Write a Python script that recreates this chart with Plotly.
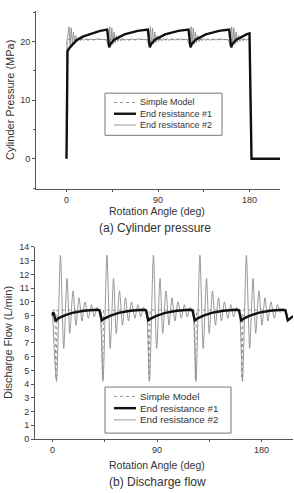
import plotly.graph_objects as go

# ---------------- (a) Cylinder pressure ----------------
sim_p_x = [0, 0.5, 180, 181.5]
sim_p_y = [0, 20.3, 20.3, 0]

er1_p_x = [0, 0.5, 1, 3, 5, 10, 16, 25, 33, 40,
           42, 43, 47, 57, 70, 80,
           82, 83, 87, 97, 110, 120,
           122, 123, 127, 137, 150, 160,
           162, 163, 167, 177, 180, 182, 210]
er1_p_y = [0, 18.0, 18.3, 18.9, 19.3, 20.2, 20.8, 21.4, 21.8, 22.0,
           19.0, 19.5, 20.3, 21.2, 21.8, 22.0,
           19.0, 19.5, 20.3, 21.2, 21.8, 22.0,
           19.0, 19.5, 20.3, 21.2, 21.8, 22.0,
           19.0, 19.5, 20.3, 21.2, 21.35, 0, 0]

er2_p_x = [0, 0.5, 2.5, 3.5, 4.6, 5.7, 6.8, 7.9, 9.0, 10.5, 12, 13.5, 15, 17, 19, 21, 24, 27, 30, 39,
           41, 42.5, 43.5, 44.6, 45.7, 46.8, 47.9, 49.0, 50.5, 52, 53.5, 55, 57, 59, 61, 64, 67, 70, 79,
           81, 82.5, 83.5, 84.6, 85.7, 86.8, 87.9, 89.0, 90.5, 92, 93.5, 95, 97, 99, 101, 104, 107, 110, 119,
           121, 122.5, 123.5, 124.6, 125.7, 126.8, 127.9, 129.0, 130.5, 132, 133.5, 135, 137, 139, 141, 144, 147, 150, 159,
           161, 162.5, 163.5, 164.6, 165.7, 166.8, 167.9, 169.0, 170.5, 172, 173.5, 175, 177, 179, 180, 181.5]
er2_p_y = [0, 20.0, 22.5, 19.3, 22.3, 19.5, 21.6, 19.8, 21.0, 20.0, 20.7, 20.1, 20.5, 20.2, 20.45, 20.2, 20.4, 20.25, 20.4, 20.3,
           19.3, 22.5, 19.3, 22.3, 19.5, 21.6, 19.8, 21.0, 20.0, 20.7, 20.1, 20.5, 20.2, 20.45, 20.2, 20.4, 20.25, 20.4, 20.3,
           19.3, 22.5, 19.3, 22.3, 19.5, 21.6, 19.8, 21.0, 20.0, 20.7, 20.1, 20.5, 20.2, 20.45, 20.2, 20.4, 20.25, 20.4, 20.3,
           19.3, 22.5, 19.3, 22.3, 19.5, 21.6, 19.8, 21.0, 20.0, 20.7, 20.1, 20.5, 20.2, 20.45, 20.2, 20.4, 20.25, 20.4, 20.3,
           19.3, 22.5, 19.3, 22.3, 19.5, 21.6, 19.8, 21.0, 20.0, 20.7, 20.1, 20.5, 20.2, 20.45, 20.3, 0]

# ---------------- (b) Discharge flow ----------------
sim_q_x = [0, 2, 3, 4, 42, 43, 44, 82, 83, 84, 122, 123, 124, 162, 163, 164, 200]
sim_q_y = [9.4, 9.4, 4.4, 9.4, 9.4, 4.4, 9.4, 9.4, 4.4, 9.4, 9.4, 4.4, 9.4, 9.4, 4.4, 9.4, 9.4]

er1_q_x = [0, 0.6, 1.4, 2.6, 5, 10, 17, 27, 38, 40.5,
           42.5, 45, 50, 57, 67, 78, 80.5,
           82.5, 85, 90, 97, 107, 118, 120.5,
           122.5, 125, 130, 137, 147, 158, 160.5,
           162.5, 165, 170, 177, 187, 198, 200.5,
           202.5, 207]
er1_q_y = [9.0, 9.25, 9.1, 8.6, 8.8, 9.0, 9.2, 9.35, 9.42, 9.38,
           8.65, 8.8, 9.0, 9.2, 9.35, 9.42, 9.38,
           8.65, 8.8, 9.0, 9.2, 9.35, 9.42, 9.38,
           8.65, 8.8, 9.0, 9.2, 9.35, 9.42, 9.38,
           8.65, 8.8, 9.0, 9.2, 9.35, 9.42, 9.38,
           8.65, 8.95]

er2_q_x = [0, 3.5, 6.9, 9.7, 12.6, 14.9, 17.7, 20.3, 22.9, 25.4, 28.0, 30.9, 33.5, 36.0, 38.4,
           40.8, 43.5, 46.9, 49.7, 52.6, 54.9, 57.7, 60.3, 62.9, 65.4, 68.0, 70.9, 73.5, 76.0, 78.4,
           80.8, 83.5, 86.9, 89.7, 92.6, 94.9, 97.7, 100.3, 102.9, 105.4, 108.0, 110.9, 113.5, 116.0, 118.4,
           120.8, 123.5, 126.9, 129.7, 132.6, 134.9, 137.7, 140.3, 142.9, 145.4, 148.0, 150.9, 153.5, 156.0, 158.4,
           160.8, 163.5, 166.9, 169.7, 172.6, 174.9, 177.7, 180.3, 182.9, 185.4, 188.0, 190.9, 193.5, 196.0]
er2_q_y = [9.3, 4.2, 13.4, 6.6, 11.7, 7.7, 10.8, 8.3, 10.3, 8.6, 10.0, 8.8, 9.8, 8.9, 9.6,
           9.2, 4.2, 13.4, 6.6, 11.7, 7.7, 10.8, 8.3, 10.3, 8.6, 10.0, 8.8, 9.8, 8.9, 9.6,
           9.2, 4.2, 13.4, 6.6, 11.7, 7.7, 10.8, 8.3, 10.3, 8.6, 10.0, 8.8, 9.8, 8.9, 9.6,
           9.2, 4.2, 13.4, 6.6, 11.7, 7.7, 10.8, 8.3, 10.3, 8.6, 10.0, 8.8, 9.8, 8.9, 9.6,
           9.2, 4.2, 13.4, 6.6, 11.7, 7.7, 10.8, 8.3, 10.3, 8.6, 10.0, 8.8, 9.8, 9.2]

x_tickvals = [0, 90, 180]
p_tickvals = [0, 10, 20]
q_tickvals = list(range(0, 15))
legend_names = ["Simple Model", "End resistance #1", "End resistance #2"]

W, H = 294, 493
FONT = "Liberation Sans, Arial, sans-serif"
TXT = "#333333"
AX = "#555555"

def px(v):
    return v / W

def py(v):
    return (H - v) / H

fig = go.Figure()

sim_style = dict(color="#8f8f8f", width=1, dash="dot")
er1_style = dict(color="#111111", width=2.4)
er2_style = dict(color="#8c8c8c", width=0.9)
styles = [sim_style, er1_style, er2_style]

# top traces
fig.add_trace(go.Scatter(x=sim_p_x, y=sim_p_y, mode="lines", name=legend_names[0], line=sim_style,
                         xaxis="x", yaxis="y"))
fig.add_trace(go.Scatter(x=er2_p_x, y=er2_p_y, mode="lines", name=legend_names[2], line=er2_style,
                         xaxis="x", yaxis="y"))
fig.add_trace(go.Scatter(x=er1_p_x, y=er1_p_y, mode="lines", name=legend_names[1], line=er1_style,
                         xaxis="x", yaxis="y"))
# bottom traces
fig.add_trace(go.Scatter(x=sim_q_x, y=sim_q_y, mode="lines", name=legend_names[0], line=sim_style,
                         xaxis="x2", yaxis="y2"))
fig.add_trace(go.Scatter(x=er2_q_x, y=er2_q_y, mode="lines", name=legend_names[2],
                         line=dict(er2_style, shape="spline", smoothing=0.7),
                         xaxis="x2", yaxis="y2"))
fig.add_trace(go.Scatter(x=er1_q_x, y=er1_q_y, mode="lines", name=legend_names[1], line=er1_style,
                         xaxis="x2", yaxis="y2"))

axis_common = dict(showline=True, linecolor=AX, linewidth=1, ticks="outside", ticklen=3,
                   tickcolor=AX, showgrid=False, zeroline=False,
                   tickfont=dict(size=9, color=TXT, family=FONT))

fig.update_layout(
    width=W, height=H,
    margin=dict(l=0, r=0, t=0, b=0),
    paper_bgcolor="white", plot_bgcolor="white",
    font=dict(family=FONT, color=TXT, size=9),
    showlegend=False,
    xaxis=dict(axis_common, domain=[px(36), px(280)], range=[-30, 210], anchor="y", ticklen=2,
               tickvals=x_tickvals, ticktext=[str(v) for v in x_tickvals],
               minor=dict(tickmode="linear", tick0=0, dtick=45, ticks="outside", ticklen=2, tickcolor=AX)),
    yaxis=dict(axis_common, domain=[py(188), py(6)], range=[-5.2, 25.2], anchor="x",
               tickvals=p_tickvals, ticktext=[str(v) for v in p_tickvals],
               minor=dict(tickmode="linear", tick0=0, dtick=5, ticks="outside", ticklen=2, tickcolor=AX)),
    xaxis2=dict(axis_common, domain=[px(35), px(293)], range=[-15, 207], anchor="y2", ticklen=2,
                tickvals=x_tickvals, ticktext=[str(v) for v in x_tickvals],
                minor=dict(tickmode="linear", tick0=0, dtick=45, ticks="outside", ticklen=2, tickcolor=AX)),
    yaxis2=dict(axis_common, domain=[py(443), py(247)], range=[0, 14], anchor="x2",
                tickvals=q_tickvals, ticktext=[str(v) for v in q_tickvals]),
)

# titles and captions
annots = [
    dict(text="Cylinder Pressure (MPa)", x=px(10), y=py(97), textangle=-90, size=11),
    dict(text="Rotation Angle (deg)", x=px(157), y=py(210), textangle=0, size=10.5),
    dict(text="(a) Cylinder pressure", x=px(155), y=py(228), textangle=0, size=12),
    dict(text="Discharge Flow (L/min)", x=px(8), y=py(345), textangle=-90, size=11),
    dict(text="Rotation Angle (deg)", x=px(157), y=py(470), textangle=0, size=10.5),
    dict(text="(b) Discharge flow", x=px(157), y=py(487), textangle=0, size=12),
]
for a in annots:
    fig.add_annotation(text=a["text"], x=a["x"], y=a["y"], xref="paper", yref="paper",
                       xanchor="center", yanchor="middle", showarrow=False, textangle=a["textangle"],
                       font=dict(size=a["size"], color=TXT, family=FONT))

# hand-drawn legends (box, line samples, labels)
legend_boxes = [
    dict(x0=105, x1=222, y0=90, y1=133, rows=[99.5, 111, 122.5], fs=9),
    dict(x0=105, x1=231, y0=390, y1=437, rows=[399.5, 411.5, 423.5], fs=9.8),
]
for lb in legend_boxes:
    fig.add_shape(type="rect", xref="paper", yref="paper",
                  x0=px(lb["x0"]), x1=px(lb["x1"]), y0=py(lb["y1"]), y1=py(lb["y0"]),
                  line=dict(color="#777777", width=1), fillcolor="white", layer="above")
    for name, st, ry in zip(legend_names, styles, lb["rows"]):
        fig.add_shape(type="line", xref="paper", yref="paper",
                      x0=px(114), x1=px(136), y0=py(ry), y1=py(ry),
                      line=dict(color=st["color"], width=st["width"], dash=st.get("dash", "solid")),
                      layer="above")
        fig.add_annotation(text=name, x=px(138), y=py(ry), xref="paper", yref="paper",
                           xanchor="left", yanchor="middle", showarrow=False,
                           font=dict(size=lb["fs"], color=TXT, family=FONT))

fig.write_html("out.html")
